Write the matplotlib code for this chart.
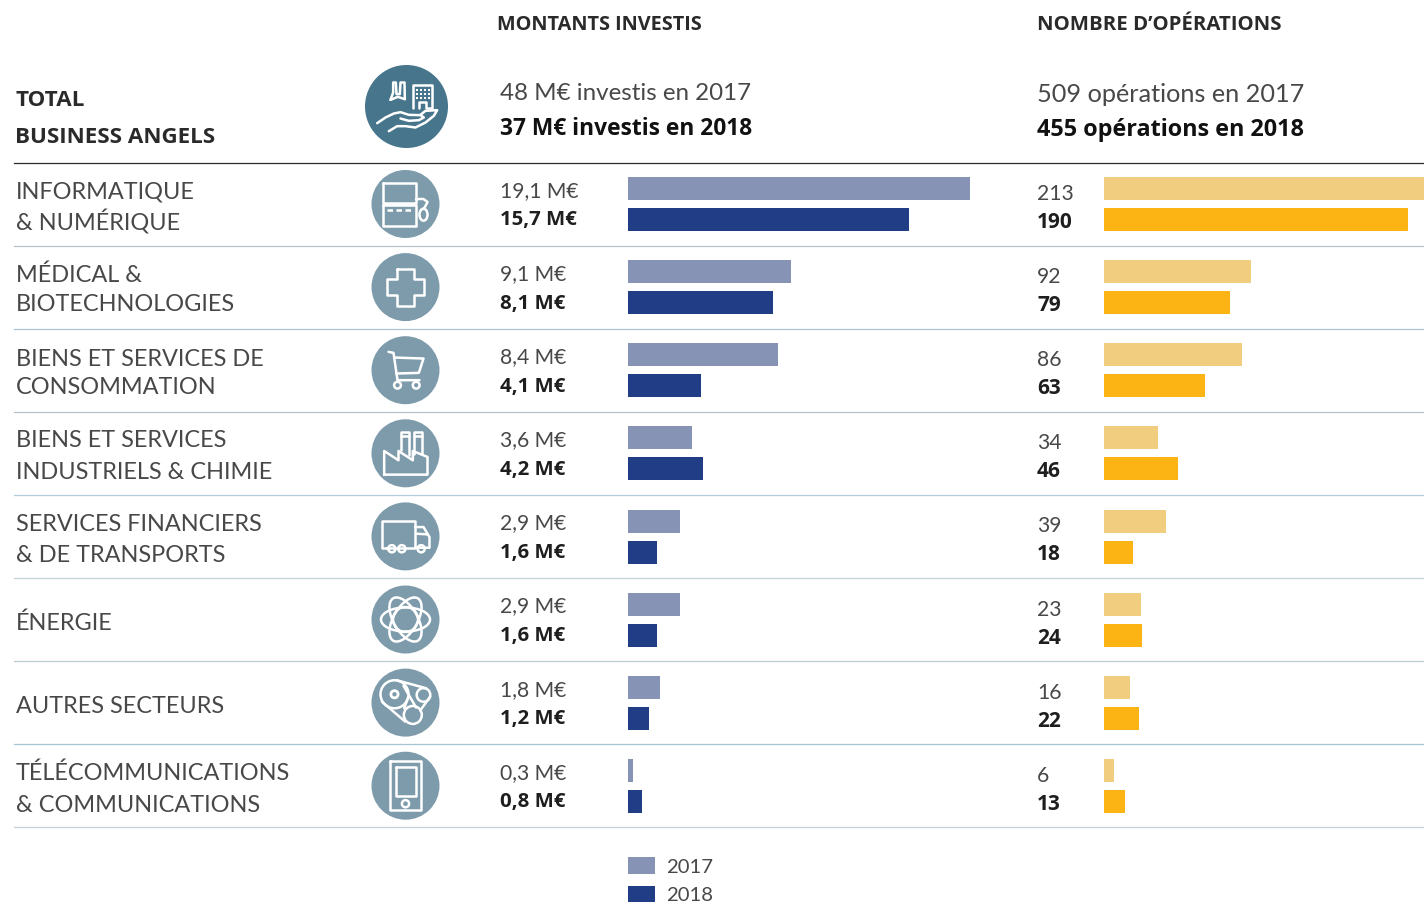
import matplotlib
matplotlib.use("Agg")
import matplotlib.pyplot as plt
from matplotlib.patches import Circle, Ellipse, Rectangle

# data
sectors = [
    ["INFORMATIQUE", "& NUMÉRIQUE"],
    ["MÉDICAL &", "BIOTECHNOLOGIES"],
    ["BIENS ET SERVICES DE", "CONSOMMATION"],
    ["BIENS ET SERVICES", "INDUSTRIELS & CHIMIE"],
    ["SERVICES FINANCIERS", "& DE TRANSPORTS"],
    ["ÉNERGIE"],
    ["AUTRES SECTEURS"],
    ["TÉLÉCOMMUNICATIONS", "& COMMUNICATIONS"],
]
montants_2017 = [19.1, 9.1, 8.4, 3.6, 2.9, 2.9, 1.8, 0.3]
montants_2018 = [15.7, 8.1, 4.1, 4.2, 1.6, 1.6, 1.2, 0.8]
operations_2017 = [213, 92, 86, 34, 39, 23, 16, 6]
operations_2018 = [190, 79, 63, 46, 18, 24, 22, 13]

W, H = 1424, 902
COL_2017 = "#8693b5"
COL_2018 = "#213d85"
COL_OP_2017 = "#f0cd7f"
COL_OP_2018 = "#fbb413"
CIRCLE = "#7d9bab"
CIRCLE_TOP = "#46758c"
LIGHT = "#484848"
DARK = "#1e1e1e"
ICON_LW = 1.8

fig = plt.figure(figsize=(W / 100, H / 100), dpi=100)

# background axes in pixels, for the text, the rules and the icons
bg = fig.add_axes([0, 0, 1, 1])
bg.set_xlim(0, W)
bg.set_ylim(H, 0)
bg.axis("off")


def bar_axes(left, right, xmax):
    ax = fig.add_axes([left / W, 1 - 827.5 / H, (right - left) / W, 665 / H])
    ax.set_xlim(0, xmax)
    ax.set_ylim(7.5, -0.5)
    ax.axis("off")
    return ax


ROW = 83.1
BAR_H = 23 / ROW
OFF = 15.5 / ROW

ax1 = bar_axes(628, 986, 20)
ax2 = bar_axes(1104, 1424, 200)
rows = list(range(len(sectors)))
ax1.barh([r - OFF for r in rows], montants_2017, height=BAR_H, color=COL_2017)
ax1.barh([r + OFF for r in rows], montants_2018, height=BAR_H, color=COL_2018)
ax2.barh([r - OFF for r in rows], operations_2017, height=BAR_H, color=COL_OP_2017)
ax2.barh([r + OFF for r in rows], operations_2018, height=BAR_H, color=COL_OP_2018)


def txt(x, y, s, size, bold=False, color=None):
    if bold:
        bg.text(x, y, s, fontsize=size, family="Open Sans", weight="bold",
                color=color or DARK, va="baseline")
    else:
        bg.text(x, y, s, fontsize=size, family="Lato", weight="normal",
                color=color or LIGHT, va="baseline")


# headers
txt(497, 30, "MONTANTS INVESTIS", 14.3, True, "#2a2a2a")
txt(1037, 30, "NOMBRE D’OPÉRATIONS", 14.7, True, "#2a2a2a")
txt(15, 106, "TOTAL", 16.1, True, "#2a2a2a")
txt(15, 143, "BUSINESS ANGELS", 16.1, True, "#2a2a2a")
txt(500, 100, "48 M€ investis en 2017", 17.4)
txt(500, 135, "37 M€ investis en 2018", 16.4, True, "#111111")
txt(1037, 102, "509 opérations en 2017", 18.2)
txt(1037, 136, "455 opérations en 2018", 16.8, True, "#111111")

# rules
rule_colors = ["#b7c1c8", "#a9c4d3", "#b7c1c8", "#b4cdda", "#c3d2da", "#bccad2", "#a9c4d3", "#c3d2da"]
bg.plot([14, W], [162.5, 162.5], color="#2b2b2b", lw=0.9)
for i, c in enumerate(rule_colors):
    yy = 245.5 + i * 83.1
    bg.plot([14, W], [yy, yy], color=c, lw=0.9)

# row labels and values
label_base = [(198, 230), (282, 311), (366, 394), (447, 479), (531, 562), (630,), (713,), (780, 812)]
for lines, bases in zip(sectors, label_base):
    for s, b in zip(lines, bases):
        txt(16, b, s, 16.9)

for i in rows:
    yl = 197 + i * 83.1
    txt(500, yl, f"{montants_2017[i]:.1f} M€".replace(".", ","), 15.2)
    txt(500, yl + 28.5, f"{montants_2018[i]:.1f} M€".replace(".", ","), 14.7, True)
    txt(1037, 200 + i * 83.1, str(operations_2017[i]), 15.2)
    txt(1037, 228 + i * 83.1, str(operations_2018[i]), 15, True)

# legend
for yy, c, s, b in [(857, COL_2017, "2017", 873), (886, COL_2018, "2018", 901)]:
    bg.add_patch(Rectangle((628, yy), 27, 17, color=c, lw=0))
    txt(666, b, s, 14.6)


# icons, white outlines on round badges
def line(cx, cy, pts, lw=ICON_LW):
    bg.plot([cx + p[0] for p in pts], [cy + p[1] for p in pts], color="white",
            lw=lw, solid_joinstyle="round", solid_capstyle="round")


def box(cx, cy, x0, y0, x1, y1, lw=ICON_LW):
    line(cx, cy, [(x0, y0), (x1, y0), (x1, y1), (x0, y1), (x0, y0)], lw)


def ring(cx, cy, x, y, r, fill="none", lw=ICON_LW):
    bg.add_patch(Circle((cx + x, cy + y), r, fc=fill, ec="white", lw=lw))


def z(pts, c0, c1):
    # points taken from a 3x crop
    return [((p[0] - c0) / 3, (p[1] - c1) / 3) for p in pts]


def icon_total(cx, cy):
    line(cx, cy, z([(150, 147), (158, 125), (158, 95), (166, 95), (168, 130), (178, 130), (180, 95), (192, 95), (193, 145)], 198, 167))
    line(cx, cy, z([(150, 147), (172, 138), (193, 145)], 198, 167))
    line(cx, cy, z([(217, 170), (217, 103), (275, 103), (275, 170), (255, 170), (255, 152), (234, 152), (234, 170)], 198, 167))
    for gx in (228, 241, 254, 266):
        for gy in (118, 130, 142):
            bg.plot(cx + (gx - 198) / 3, cy + (gy - 167) / 3, "s", ms=1.8, color="white", mew=0)
    line(cx, cy, z([(110, 217), (135, 200), (160, 188), (180, 184), (205, 192), (240, 193), (250, 200), (235, 208), (205, 210), (180, 203)], 198, 167))
    line(cx, cy, z([(240, 192), (255, 180), (290, 178), (280, 195), (255, 215), (225, 230), (195, 226), (170, 226), (145, 241)], 198, 167))


def icon_computer(cx, cy):
    box(cx, cy, -22.5, -21.5, 10.5, -0.7)
    box(cx, cy, -22.5, 0.7, 10.5, 21.5)
    bg.plot([cx - 19, cx + 8], [cy + 5.7, cy + 5.7], color="white", lw=ICON_LW, ls=(0, (2.2, 1.4)))
    line(cx, cy, [(10.5, -5), (18, -5), (22, -2), (20, 2), (18, 5)])
    bg.add_patch(Ellipse((cx + 18, cy + 10.7), 8, 12, fc="none", ec="white", lw=ICON_LW))


def icon_cross(cx, cy):
    a, b = 8.3, 18.5
    pts = [(-a, -b), (a, -b), (a, -a), (b, -a), (b, a), (a, a), (a, b), (-a, b), (-a, a), (-b, a), (-b, -a), (-a, -a), (-a, -b)]
    line(cx, cy, pts)


def icon_cart(cx, cy):
    line(cx, cy, z([(145, 65), (160, 68), (172, 150), (238, 150)], 196, 120))
    line(cx, cy, z([(162, 82), (250, 85), (236, 128), (168, 130)], 196, 120))
    ring(cx, cy, (172 - 196) / 3, (165 - 120) / 3, 3.4)
    ring(cx, cy, (228 - 196) / 3, (165 - 120) / 3, 3.4)


def icon_factory(cx, cy):
    line(cx, cy, z([(132, 433), (132, 362), (175, 390), (175, 362), (218, 390), (218, 362), (262, 380), (262, 433), (132, 433)], 196, 369))
    line(cx, cy, z([(183, 358), (183, 305), (207, 305), (207, 375)], 196, 369))
    line(cx, cy, z([(222, 372), (222, 305), (246, 305), (246, 372)], 196, 369))
    line(cx, cy, z([(183, 318), (207, 318)], 196, 369))
    line(cx, cy, z([(222, 318), (246, 318)], 196, 369))


def icon_truck(cx, cy):
    line(cx, cy, z([(140, 652), (125, 652), (125, 573), (225, 573), (225, 652), (140, 652)], 196, 618))
    line(cx, cy, z([(225, 590), (250, 590), (268, 620), (268, 652), (225, 652)], 196, 618))
    line(cx, cy, z([(230, 610), (262, 612)], 196, 618))
    for wx in (155, 185, 243):
        ring(cx, cy, (wx - 196) / 3, (655 - 618) / 3, 3.6, fill=CIRCLE)


def icon_atom(cx, cy):
    ring(cx, cy, 0, 0, 12.5)
    for ang in (0, 60, 120):
        bg.add_patch(Ellipse((cx, cy), 49, 24, angle=ang, fc="none", ec="white", lw=ICON_LW))


def icon_belt(cx, cy):
    ring(cx, cy, (163 - 196) / 3, (343 - 368) / 3, 14)
    ring(cx, cy, (163 - 196) / 3, (343 - 368) / 3, 3.6, lw=2)
    ring(cx, cy, (250 - 196) / 3, (345 - 368) / 3, 6.8)
    ring(cx, cy, (218 - 196) / 3, (405 - 368) / 3, 9)
    line(cx, cy, z([(170, 301), (258, 325)], 196, 368))
    line(cx, cy, z([(270, 350), (240, 392)], 196, 368))
    line(cx, cy, z([(125, 365), (195, 425)], 196, 368))
    line(cx, cy, z([(190, 318), (228, 383)], 196, 368))
    line(cx, cy, z([(205, 350), (192, 385)], 196, 368))


def icon_phone(cx, cy):
    box(cx, cy, (150 - 196) / 3, (543 - 616) / 3, (243 - 196) / 3, (690 - 616) / 3)
    box(cx, cy, (167 - 196) / 3, (560 - 616) / 3, (227 - 196) / 3, (648 - 616) / 3)
    ring(cx, cy, 0, (670 - 616) / 3, 3.6)


bg.add_patch(Circle((406.5, 106.5), 41.5, color=CIRCLE_TOP, lw=0))
icon_total(406.5, 106.5)
icons = [icon_computer, icon_cross, icon_cart, icon_factory, icon_truck, icon_atom, icon_belt, icon_phone]
for i, f in enumerate(icons):
    cy = 204 + i * 83.1
    bg.add_patch(Circle((405.5, cy), 34, color=CIRCLE, lw=0))
    f(405.5, cy)

fig.savefig("out.png", dpi=100)
